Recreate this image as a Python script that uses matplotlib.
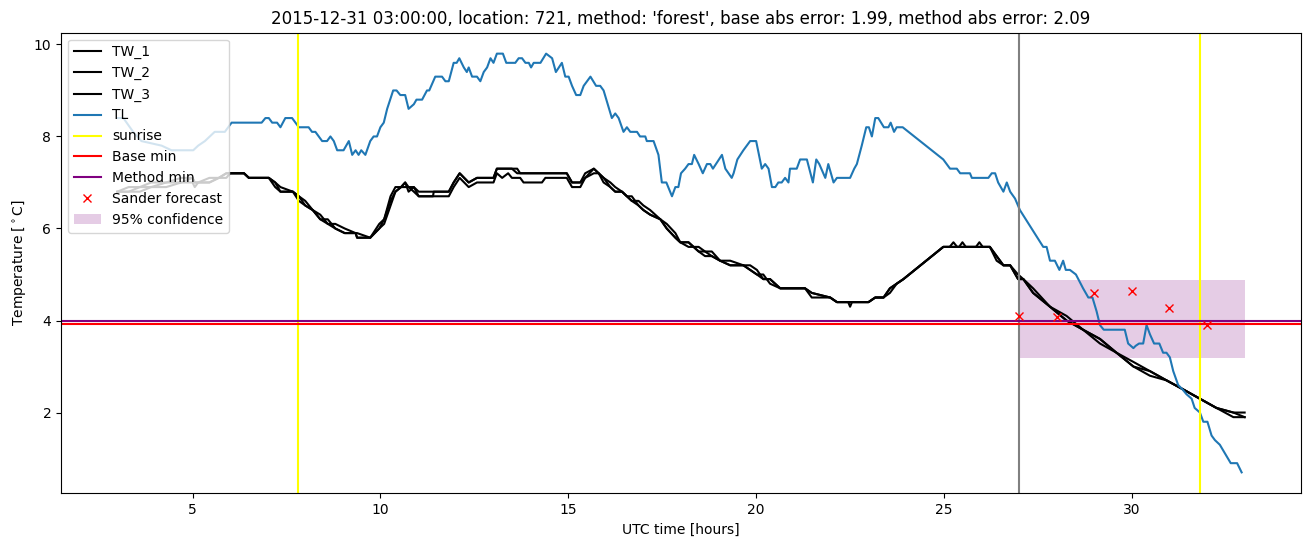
import matplotlib
matplotlib.use("Agg")
import matplotlib.pyplot as plt

title = ("2015-12-31 03:00:00, location: 721, method: 'forest', "
         "base abs error: 1.99, method abs error: 2.09")

# Road surface temperatures (three sensors)
tw_hours = [3.0, 3.3, 3.6, 3.9, 4.3, 4.7, 5.0, 5.06, 5.15, 5.45, 5.7, 5.9, 6.0, 6.37,
            6.5, 7.03, 7.2, 7.34, 7.67, 7.83, 8.0, 8.2, 8.4, 8.6, 8.8, 9.05, 9.34,
            9.38, 9.73, 9.97, 10.1, 10.27, 10.4, 10.55, 10.66, 10.75, 10.89, 11.02,
            11.4, 11.42, 11.82, 11.95, 12.11, 12.35, 12.57, 13.01, 13.1, 13.24, 13.4,
            13.5, 13.64, 13.72, 13.81, 14.3, 14.39, 14.96, 15.1, 15.32, 15.45, 15.68,
            15.81, 15.94, 16.12, 16.25, 16.43, 16.56, 16.69, 16.87, 17.0, 17.18,
            17.45, 17.62, 17.85, 17.98, 18.2, 18.47, 18.64, 18.82, 19.04, 19.31,
            19.66, 19.84, 20.02, 20.19, 20.37, 20.64, 21.3, 21.48, 21.97, 22.15,
            22.45, 22.5, 22.55, 22.99, 23.17, 23.39, 23.56, 23.74, 23.92, 24.98,
            25.15, 25.25, 25.35, 25.4, 25.49, 25.58, 25.85, 25.94, 26.03, 26.22,
            26.4, 26.58, 26.76, 26.97, 27.11, 27.37, 27.82, 28.26, 28.7, 29.15,
            29.59, 30.04, 30.48, 30.92, 31.37, 31.81, 32.25, 32.7, 33.0]
tw_1 = [6.8, 6.9, 6.9, 7.0, 7.0, 7.1, 7.1, 7.0, 7.0, 7.1, 7.1, 7.2, 7.2, 7.2,
        7.1, 7.1, 7.0, 6.8, 6.8, 6.7, 6.5, 6.4, 6.2, 6.1, 6.0, 5.9, 5.9,
        5.8, 5.8, 6.1, 6.2, 6.7, 6.9, 6.9, 7.0, 6.8, 6.9, 6.7,
        6.7, 6.8, 6.8, 7.0, 7.2, 7.0, 7.1, 7.1, 7.3, 7.3, 7.3,
        7.3, 7.2, 7.2, 7.2, 7.2, 7.2, 7.2, 7.0, 7.0, 7.2, 7.3,
        7.2, 7.1, 6.9, 6.8, 6.8, 6.7, 6.6, 6.5, 6.4, 6.3,
        6.2, 6.0, 5.8, 5.7, 5.7, 5.5, 5.5, 5.4, 5.3, 5.2,
        5.2, 5.1, 5.0, 4.9, 4.9, 4.7, 4.7, 4.6, 4.5, 4.4,
        4.4, 4.4, 4.4, 4.4, 4.5, 4.5, 4.7, 4.8, 4.9, 5.6,
        5.6, 5.6, 5.6, 5.6, 5.6, 5.6, 5.6, 5.7, 5.6, 5.6,
        5.4, 5.2, 5.2, 4.9, 4.9, 4.6, 4.3, 4.0, 3.8, 3.6,
        3.3, 3.0, 2.9, 2.7, 2.5, 2.3, 2.1, 2.0, 2.0]
tw_2 = [6.8, 6.8, 6.9, 6.9, 7.0, 7.0, 7.1, 7.0, 7.0, 7.0, 7.1, 7.2, 7.2, 7.2,
        7.1, 7.1, 6.9, 6.8, 6.8, 6.6, 6.5, 6.4, 6.3, 6.1, 6.1, 6.0, 5.9,
        5.9, 5.8, 6.0, 6.2, 6.6, 6.8, 6.9, 7.0, 6.9, 6.9, 6.8,
        6.8, 6.8, 6.8, 7.0, 7.2, 7.0, 7.1, 7.1, 7.3, 7.3, 7.3,
        7.3, 7.3, 7.2, 7.2, 7.2, 7.2, 7.2, 7.0, 7.0, 7.1, 7.2,
        7.2, 7.0, 6.9, 6.8, 6.8, 6.7, 6.6, 6.6, 6.5, 6.4,
        6.2, 6.1, 5.9, 5.7, 5.6, 5.6, 5.5, 5.5, 5.3, 5.3,
        5.2, 5.2, 5.1, 4.9, 4.9, 4.7, 4.7, 4.6, 4.5, 4.4,
        4.4, 4.3, 4.4, 4.4, 4.5, 4.5, 4.6, 4.8, 4.9, 5.6,
        5.6, 5.7, 5.6, 5.6, 5.6, 5.6, 5.6, 5.6, 5.6, 5.6,
        5.4, 5.2, 5.2, 5.0, 4.9, 4.6, 4.3, 4.0, 3.8, 3.5,
        3.3, 3.1, 2.9, 2.7, 2.5, 2.3, 2.1, 2.0, 1.9]
tw_3 = [6.8, 6.8, 6.8, 6.9, 6.9, 7.0, 7.0, 6.9, 7.0, 7.0, 7.1, 7.1, 7.2, 7.2,
        7.1, 7.1, 7.0, 6.9, 6.8, 6.7, 6.6, 6.4, 6.2, 6.2, 6.0, 5.9, 5.9,
        5.8, 5.8, 6.0, 6.1, 6.5, 6.8, 6.9, 6.9, 6.9, 6.8, 6.7,
        6.7, 6.7, 6.7, 6.9, 7.1, 6.9, 7.0, 7.0, 7.2, 7.1, 7.2,
        7.1, 7.1, 7.1, 7.0, 7.0, 7.1, 7.1, 6.9, 6.9, 7.1, 7.3,
        7.2, 7.1, 7.0, 6.9, 6.8, 6.7, 6.7, 6.5, 6.4, 6.3,
        6.2, 6.0, 5.8, 5.7, 5.7, 5.5, 5.4, 5.4, 5.3, 5.2,
        5.2, 5.1, 5.0, 5.0, 4.8, 4.7, 4.7, 4.5, 4.5, 4.4,
        4.4, 4.4, 4.4, 4.4, 4.5, 4.5, 4.7, 4.8, 4.9, 5.6,
        5.6, 5.6, 5.6, 5.6, 5.7, 5.6, 5.6, 5.6, 5.6, 5.6,
        5.3, 5.2, 5.2, 4.9, 4.9, 4.7, 4.3, 4.1, 3.8, 3.6,
        3.3, 3.0, 2.8, 2.7, 2.5, 2.3, 2.1, 1.9, 1.9]

# Air temperature
tl_hours = [3.0, 3.16, 3.42, 3.64, 4.18, 4.44, 5.02, 5.15, 5.33, 5.46, 5.59, 5.86,
            6.04, 6.84, 6.94, 7.03, 7.12, 7.25, 7.34, 7.47, 7.65, 7.83, 8.09, 8.18,
            8.27, 8.45, 8.58, 8.67, 8.76, 8.85, 9.02, 9.16, 9.25, 9.34, 9.42, 9.49,
            9.6, 9.73, 9.82, 9.91, 10.0, 10.09, 10.18, 10.34, 10.43, 10.53, 10.66,
            10.75, 10.89, 10.96, 11.11, 11.24, 11.3, 11.46, 11.55, 11.64, 11.73,
            11.82, 11.95, 12.03, 12.1, 12.22, 12.3, 12.35, 12.44, 12.57, 12.66,
            12.75, 12.84, 12.93, 13.01, 13.1, 13.26, 13.35, 13.59, 13.68, 13.77,
            13.86, 13.95, 14.01, 14.08, 14.26, 14.41, 14.57, 14.67, 14.83, 14.92,
            15.01, 15.1, 15.21, 15.32, 15.41, 15.59, 15.74, 15.85, 15.94, 16.05,
            16.16, 16.25, 16.34, 16.47, 16.56, 16.65, 16.83, 16.91, 17.05, 17.09,
            17.27, 17.4, 17.49, 17.61, 17.76, 17.85, 17.93, 18.0, 18.11, 18.2,
            18.29, 18.35, 18.47, 18.58, 18.69, 18.78, 18.85, 19.09, 19.18, 19.35,
            19.4, 19.5, 19.66, 19.84, 20.0, 20.15, 20.24, 20.33, 20.42, 20.51,
            20.59, 20.68, 20.77, 20.86, 20.9, 21.08, 21.17, 21.35, 21.51, 21.6,
            21.68, 21.84, 21.92, 22.06, 22.15, 22.5, 22.61, 22.68, 22.81, 22.93,
            23.0, 23.08, 23.17, 23.25, 23.4, 23.52, 23.58, 23.67, 23.74, 23.9,
            24.98, 25.16, 25.34, 25.43, 25.69, 25.74, 26.18, 26.27, 26.36, 26.44,
            26.58, 26.67, 26.76, 26.89, 27.02, 27.64, 27.73, 27.82, 27.95, 28.07,
            28.17, 28.24, 28.35, 28.51, 28.7, 28.84, 28.95, 29.06, 29.15, 29.25,
            29.81, 29.9, 30.04, 30.1, 30.19, 30.3, 30.39, 30.48, 30.59, 30.73,
            30.83, 30.92, 31.01, 31.1, 31.23, 31.35, 31.45, 31.59, 31.67, 31.81,
            31.9, 32.01, 32.12, 32.21, 32.34, 32.63, 32.8, 32.92]
tl_values = [8.4, 8.4, 8.1, 7.9, 7.8, 7.7, 7.7, 7.8, 7.9, 8.0, 8.1, 8.1,
             8.3, 8.3, 8.4, 8.4, 8.3, 8.3, 8.2, 8.4, 8.4, 8.2, 8.2, 8.1,
             8.1, 7.9, 7.9, 8.0, 7.9, 7.7, 7.7, 7.9, 7.6, 7.7, 7.6, 7.7,
             7.6, 7.9, 8.0, 8.0, 8.2, 8.3, 8.6, 9.0, 9.0, 8.9, 8.9,
             8.6, 8.7, 8.8, 8.8, 9.0, 9.0, 9.3, 9.3, 9.3, 9.2,
             9.2, 9.6, 9.6, 9.7, 9.5, 9.4, 9.5, 9.3, 9.3, 9.2,
             9.4, 9.5, 9.7, 9.6, 9.8, 9.8, 9.6, 9.6, 9.7, 9.7,
             9.6, 9.6, 9.5, 9.6, 9.6, 9.8, 9.7, 9.4, 9.6, 9.3,
             9.3, 9.1, 8.9, 8.9, 9.1, 9.3, 9.1, 9.1, 9.0, 8.7,
             8.4, 8.5, 8.4, 8.1, 8.2, 8.1, 8.1, 8.0, 8.0, 7.9,
             7.9, 7.6, 7.0, 7.0, 6.7, 6.9, 6.9, 7.2, 7.3, 7.4,
             7.4, 7.6, 7.4, 7.2, 7.4, 7.4, 7.3, 7.6, 7.3, 7.1,
             7.2, 7.5, 7.7, 7.9, 7.9, 7.3, 7.4, 7.3, 6.9, 6.9,
             7.0, 7.0, 7.1, 7.0, 7.3, 7.3, 7.5, 7.5, 7.0, 7.5,
             7.4, 7.1, 7.4, 7.0, 7.1, 7.1, 7.3, 7.4, 7.8, 8.2,
             8.2, 8.0, 8.4, 8.4, 8.2, 8.2, 8.3, 8.1, 8.2, 8.2,
             7.5, 7.3, 7.3, 7.2, 7.2, 7.1, 7.1, 7.2, 7.2, 7.0,
             6.8, 7.0, 6.8, 6.65, 6.4, 5.6, 5.6, 5.3, 5.3, 5.1,
             5.3, 5.1, 5.1, 5.0, 4.7, 4.5, 4.5, 4.2, 3.9, 3.8,
             3.8, 3.5, 3.4, 3.45, 3.5, 3.5, 3.9, 3.7, 3.5, 3.5,
             3.3, 3.3, 3.2, 2.9, 2.6, 2.5, 2.4, 2.3, 2.1, 2.0,
             1.8, 1.8, 1.5, 1.4, 1.3, 0.9, 0.9, 0.7]

sunrise_hours = [7.82, 31.81]
forecast_time = 27.0
base_min = 3.92
method_min = 4.0
sander_hours = [27, 28, 29, 30, 31, 32]
sander_values = [4.1, 4.07, 4.6, 4.64, 4.27, 3.9]
conf_hours = [27.0, 33.0]
conf_low = 3.18
conf_high = 4.87

fig = plt.figure(figsize=(13.1, 5.47), dpi=100)
ax = fig.add_axes([61 / 1310, 1 - 493.3 / 547, 1240 / 1310, 460.6 / 547])

ax.plot(tw_hours, tw_1, color="black", label="TW_1")
ax.plot(tw_hours, tw_2, color="black", label="TW_2")
ax.plot(tw_hours, tw_3, color="black", label="TW_3")
ax.plot(tl_hours, tl_values, color="tab:blue", label="TL")
ax.axvline(sunrise_hours[0], color="yellow", label="sunrise")
ax.axvline(sunrise_hours[1], color="yellow")
ax.axvline(forecast_time, color="gray")
ax.axhline(base_min, color="red", label="Base min")
ax.axhline(method_min, color="purple", label="Method min")
ax.plot(sander_hours, sander_values, "x", color="red", label="Sander forecast")
ax.fill_between(conf_hours, [conf_low] * 2, [conf_high] * 2, color="purple",
                alpha=0.2, linewidth=0, label="95% confidence")

ax.set_title(title)
ax.set_xlabel("UTC time [hours]")
ax.set_ylabel(r"Temperature [$^\circ$C]")
ax.legend(loc="upper left")

fig.savefig("out.png", dpi=100)
